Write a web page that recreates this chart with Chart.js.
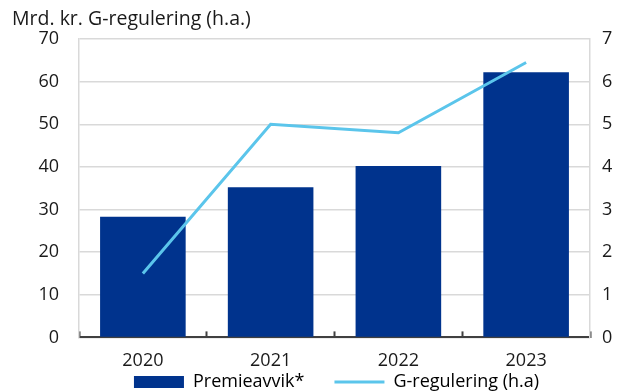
<!DOCTYPE html>
<html lang="no">
<head>
<meta charset="UTF-8">
<title>Premieavvik og G-regulering</title>
<style>
    body { margin: 0; background: #fff; }
    #wrap { position: relative; width: 633px; height: 449px; }
</style>
<script src="https://cdn.jsdelivr.net/npm/chart.js@4"></script>
</head>
<body>
<div id="wrap"><canvas id="chart"></canvas></div>
<script>
    // År, premieavvik (mrd. kr, venstre akse) og G-regulering (prosent, høyre akse)
    const years = ['2020', '2021', '2022', '2023'];
    const premieavvik = [28.3, 35.2, 40.2, 62.2];
    const gRegulering = [1.5, 5.0, 4.8, 6.45];

    const FONT = '"Open Sans", "Noto Sans", sans-serif';
    const NAVY = '#00338d';
    const LIGHT = '#5bc5eb';

    Chart.defaults.font.family = FONT;
    Chart.defaults.font.size = 18;
    Chart.defaults.color = '#1a1a1a';

    // pull the legend up close under the year labels, centred on the plot
    const legendLift = {
        id: 'legendLift',
        afterLayout(chart) {
            const lg = chart.legend;
            lg.top -= 48;
            lg.bottom -= 48;
            lg.left += 14;
            lg.right += 14;
        }
    };

    new Chart(document.getElementById('chart'), {
        type: 'bar',
        data: {
            labels: years,
            datasets: [
                {
                    type: 'line',
                    label: 'G-regulering (h.a)',
                    data: gRegulering,
                    yAxisID: 'y1',
                    borderColor: LIGHT,
                    backgroundColor: LIGHT,
                    borderWidth: 3,
                    pointRadius: 0,
                    tension: 0,
                    order: 0
                },
                {
                    label: 'Premieavvik*',
                    data: premieavvik,
                    yAxisID: 'y',
                    backgroundColor: NAVY,
                    categoryPercentage: 0.67,
                    barPercentage: 1,
                    order: 1
                }
            ]
        },
        plugins: [legendLift],
        options: {
            responsive: true,
            maintainAspectRatio: false,
            animation: false,
            layout: { padding: { left: 12, right: 0, top: 0, bottom: 0 } },
            plugins: {
                title: {
                    display: true,
                    text: 'Mrd. kr. G-regulering (h.a.)',
                    align: 'start',
                    color: '#1a1a1a',
                    font: { size: 19.5, weight: 'normal' },
                    padding: { top: 8, bottom: 7.6 }
                },
                legend: {
                    position: 'bottom',
                    reverse: true,
                    labels: {
                        usePointStyle: true,
                        pointStyleWidth: 50,
                        boxHeight: 12,
                        padding: 30,
                        color: '#1a1a1a',
                        generateLabels(chart) {
                            return chart.data.datasets.map((ds, i) => ({
                                text: ds.label,
                                datasetIndex: i,
                                fillStyle: ds.type === 'line' ? ds.borderColor : ds.backgroundColor,
                                strokeStyle: ds.type === 'line' ? ds.borderColor : ds.backgroundColor,
                                lineWidth: ds.type === 'line' ? 3 : 0,
                                pointStyle: ds.type === 'line' ? 'line' : 'rect',
                                hidden: false
                            }));
                        }
                    }
                },
                tooltip: { enabled: false }
            },
            scales: {
                x: {
                    offset: true,
                    grid: {
                        display: true,
                        offset: true,
                        drawOnChartArea: false,
                        tickLength: -6,
                        tickColor: '#404040',
                        tickWidth: 2
                    },
                    border: { display: true, color: '#404040', width: 2 },
                    ticks: { padding: 19 }
                },
                y: {
                    position: 'left',
                    min: 0,
                    max: 70,
                    ticks: { stepSize: 10, padding: 20 },
                    grid: { color: '#d9d9d9', lineWidth: 1.5, drawTicks: false },
                    border: { display: true, color: '#d9d9d9', width: 1.5 },
                    afterFit(scale) { scale.width = 67; }
                },
                y1: {
                    position: 'right',
                    min: 0,
                    max: 7,
                    ticks: { stepSize: 1, padding: 12 },
                    grid: { drawOnChartArea: false, drawTicks: false },
                    border: { display: true, color: '#d9d9d9', width: 1.5 },
                    afterFit(scale) { scale.width = 43; }
                }
            }
        }
    });
</script>
</body>
</html>
